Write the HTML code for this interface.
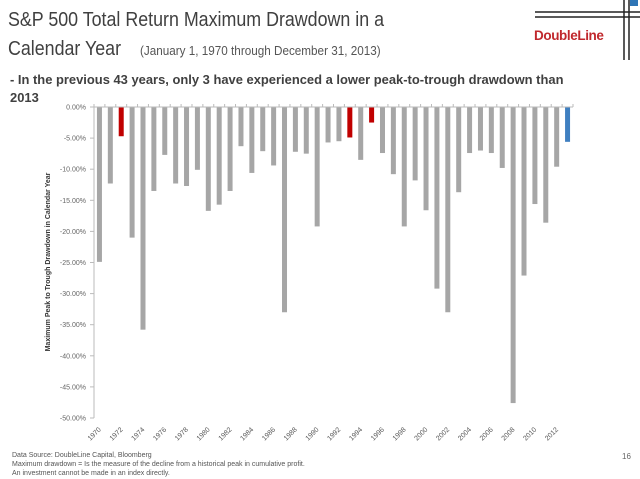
<!DOCTYPE html>
<html><head><meta charset="utf-8"><style>
body{margin:0;width:640px;height:479px;background:#fff;overflow:hidden;position:relative;font-family:"Liberation Sans",sans-serif;color:#404040}
.a{position:absolute;white-space:nowrap}
</style></head><body>
<div class="a" style="left:8px;top:8px;font-size:20.5px;transform:scaleX(0.87);transform-origin:0 0">S&amp;P 500 Total Return Maximum Drawdown in a</div>
<div class="a" style="left:8px;top:37px;font-size:20.5px;transform:scaleX(0.87);transform-origin:0 0">Calendar Year</div>
<div class="a" style="left:140px;top:43px;font-size:13px;color:#555;transform:scaleX(0.9);transform-origin:0 0">(January 1, 1970 through December 31, 2013)</div>
<div class="a" style="left:10px;top:71px;font-size:13px;font-weight:bold;line-height:18px;transform:scaleX(0.995);transform-origin:0 0">- In the previous 43 years, only 3 have experienced a lower peak-to-trough drawdown than<br>2013</div>
<div class="a" style="left:534px;top:28px;font-size:13.5px;font-weight:bold;color:#c0282d;letter-spacing:-0.4px">DoubleLine</div>
<svg class="a" style="left:0;top:0" width="640" height="70">
<line x1="535" y1="12" x2="640" y2="12" stroke="#222" stroke-width="1.5"/><line x1="535" y1="17" x2="640" y2="17" stroke="#222" stroke-width="1.5"/>
<line x1="624" y1="0" x2="624" y2="60" stroke="#222" stroke-width="1.5"/><line x1="629" y1="0" x2="629" y2="60" stroke="#222" stroke-width="1.5"/>
<rect x="630" y="0" width="8" height="6" fill="#2e75b6"/></svg>
<svg id="chart" class="a" style="left:0;top:0" width="640" height="450"></svg>
<div class="a" style="left:12px;top:451px;font-size:7px;color:#555;line-height:9px">Data Source: DoubleLine Capital, Bloomberg<br>Maximum drawdown = Is the measure of the decline from a historical peak in cumulative profit.<br>An investment cannot be made in an index directly.</div>
<div class="a" style="left:622px;top:452px;font-size:8px;color:#666">16</div>
<script>
const years=[];for(let y=1970;y<=2013;y++)years.push(y);
const drawdowns=[-24.9,-12.3,-4.7,-21,-35.8,-13.5,-7.7,-12.3,-12.7,-10.1,-16.7,-15.7,-13.5,-6.3,-10.6,-7.1,-9.4,-33,-7.2,-7.5,-19.2,-5.7,-5.5,-4.9,-8.5,-2.5,-7.4,-10.8,-19.2,-11.8,-16.6,-29.2,-33,-13.7,-7.4,-7,-7.4,-9.8,-47.6,-27.1,-15.6,-18.6,-9.6,-5.6];
const highlightRed=[1972,1993,1995];
const highlightBlue=[2013];
const yTicks=[0,-5,-10,-15,-20,-25,-30,-35,-40,-45,-50];
const svg=document.getElementById('chart'),NS='http://www.w3.org/2000/svg';
const X0=94,X1=573,Y0=107,Y1=418;
const step=(X1-X0)/years.length;
const xs=i=>X0+step*(i+0.5);
const ys=v=>Y0+(0-v)/50*(Y1-Y0);
function mk(t,a){const e=document.createElementNS(NS,t);for(const k in a)e.setAttribute(k,a[k]);svg.appendChild(e);return e;}
let e=mk('line',{x1:X0,y1:Y0,x2:X0,y2:Y1,stroke:'#bbb'});

yTicks.forEach(t=>{const y=ys(t);
 const l=mk('line',{x1:X0-4,y1:y,x2:X0,y2:y,stroke:'#bbb'});
 
 const tx=mk('text',{x:X0-8,y:y+2.5,'text-anchor':'end','font-size':'7','fill':'#666'});tx.textContent=t.toFixed(2)+'%';
 });
drawdowns.forEach((v,i)=>{const yr=years[i];
 const c=highlightRed.includes(yr)?'#c00000':highlightBlue.includes(yr)?'#3f7fc0':'#a6a6a6';
 const b=mk('rect',{x:xs(i)-2.5,y:Y0,width:5,height:ys(v)-Y0,fill:c});
 
 if(i%2===0){const x=xs(i)+2,y=Y1+12;const t=mk('text',{x:x,y:y,'text-anchor':'end','font-size':'7','fill':'#555',transform:`rotate(-45 ${x} ${y})`});t.textContent=yr;
 }});
e=mk('line',{x1:X0,y1:Y0,x2:X1,y2:Y0,stroke:'#bbb'});

for(let i=0;i<=years.length;i++){const t=mk('line',{x1:X0+step*i,y1:Y0-3,x2:X0+step*i,y2:Y0,stroke:'#bbb'});
 }
const yt=mk('text',{x:0,y:0,'text-anchor':'middle','font-size':'7','font-weight':'bold','fill':'#333',transform:'translate(50,262) rotate(-90)'});
yt.textContent='Maximum Peak to Trough Drawdown in Calendar Year';

</script>
</body></html>
